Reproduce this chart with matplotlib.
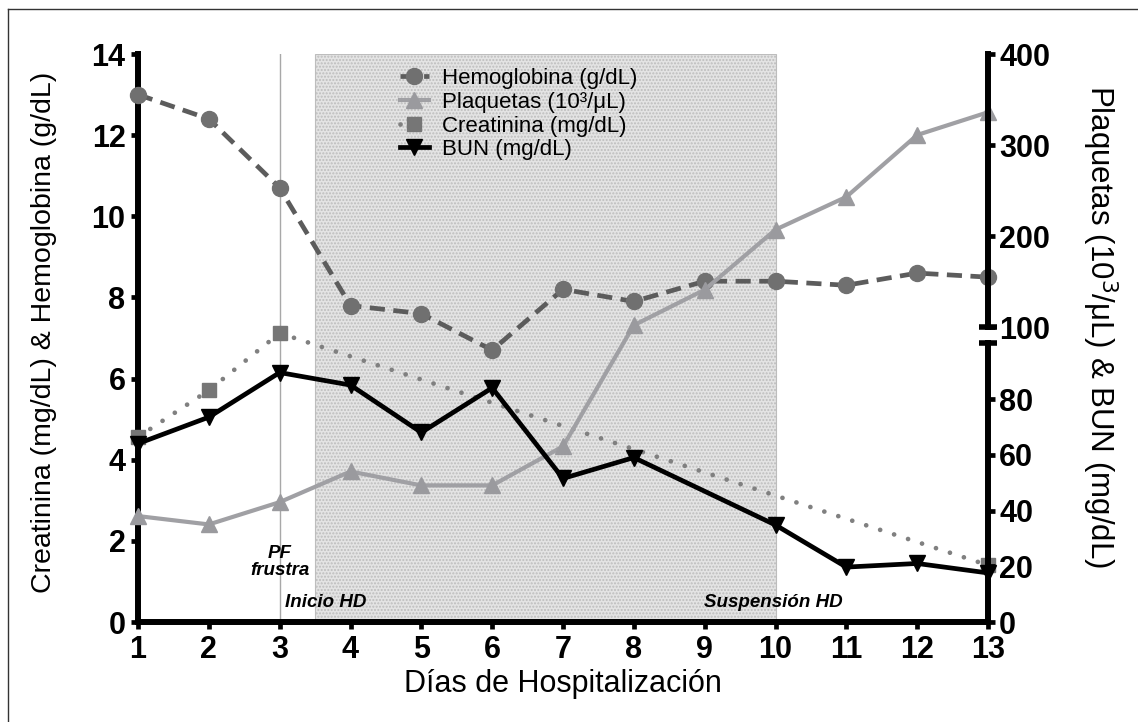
import numpy as np
import matplotlib
matplotlib.use('Agg')
import matplotlib.pyplot as plt
from matplotlib.transforms import blended_transform_factory

plt.rcParams['font.family'] = ['Liberation Sans', 'DejaVu Sans']

# data
dias = [1, 2, 3, 4, 5, 6, 7, 8, 9, 10, 11, 12, 13]
hemoglobina = [13.0, 12.4, 10.7, 7.8, 7.6, 6.7, 8.2, 7.9, 8.4, 8.4, 8.3, 8.6, 8.5]
plaquetas = [38, 35, 43, 54, 49, 49, 63, 102, 141, 207, 243, 311, 336]
creat_dias = [1, 2, 3, 13]
creatinina = [4.56, 5.71, 7.12, 1.4]
bun_dias = [1, 2, 3, 4, 5, 6, 7, 8, 10, 11, 12, 13]
bun = [64, 73.5, 89.5, 85, 68, 84, 51.5, 59, 34.8, 19.7, 21, 17.6]

left_ticks = [0, 2, 4, 6, 8, 10, 12, 14]
right_ticks = [0, 20, 40, 60, 80, 100, 200, 300, 400]

# broken right axis: 0-100 on lower part, 100-400 on upper part (in left-axis units)
LOW_TOP = 6.87
UP_BOT = 7.27

def fwd(v):
    v = np.asarray(v, dtype=float)
    return np.where(v < 100, v * LOW_TOP / 100, UP_BOT + (v - 100) * (14 - UP_BOT) / 300)

def inv(y):
    y = np.asarray(y, dtype=float)
    return np.where(y < LOW_TOP, y * 100 / LOW_TOP,
                    np.where(y < UP_BOT, 100, 100 + (y - UP_BOT) * 300 / (14 - UP_BOT)))

fig = plt.figure(figsize=(11.38, 7.22), dpi=100)
ax = fig.add_axes([138/1138, 1 - 622/722, 850/1138, 568/722])
ax2 = ax.twinx()

# frame around picture (top and left)
fig.add_artist(plt.Line2D([8/1138, 8/1138], [0, 1 - 9/722], color='#333333', lw=1))
fig.add_artist(plt.Line2D([8/1138, 1], [1 - 9/722, 1 - 9/722], color='#333333', lw=1))

# shaded HD period and PF line
ax.axvspan(3.5, 10, facecolor='#e4e4e4', edgecolor='#bdbdbd', hatch='.....', lw=0.8, zorder=0)
ax.axvline(3, color='#a8a8a8', lw=1, zorder=1)

ax.plot(dias, hemoglobina, color='#5c5c5c', lw=3.4, linestyle=(0, (3.2, 1.8)),
        marker='o', ms=11.5, mfc='#707070', mec='#707070', clip_on=False, zorder=4,
        label='Hemoglobina (g/dL)')
ax.plot(creat_dias, creatinina, color='#808080', lw=3.4, linestyle=(0, (0.01, 3.1)),
        dash_capstyle='round', marker='s', ms=10.5, mfc='#767676', mec='#767676',
        clip_on=False, zorder=4, label='Creatinina (mg/dL)')

ax2.set_yscale('function', functions=(fwd, inv))
ax2.plot(dias, plaquetas, color='#a0a0a4', lw=3, marker='^', ms=11.5,
         mfc='#9a9a9e', mec='#9a9a9e', clip_on=False, zorder=4,
         label='Plaquetas (10³/μL)')
ax2.plot(bun_dias, bun, color='black', lw=3.4, marker='v', ms=11, clip_on=False,
         zorder=5, label='BUN (mg/dL)')

ax.set_xlim(1, 13)
ax.set_ylim(0, 14)
ax2.set_ylim(0, 400)

ax.set_xticks(dias)
ax.set_yticks(left_ticks)
ax2.set_yticks(right_ticks)
ax2.set_yticklabels([str(t) for t in right_ticks])
ax2.yaxis.set_minor_locator(matplotlib.ticker.NullLocator())

for s in ['top', 'right']:
    ax.spines[s].set_visible(False)
for s in ['top', 'left', 'bottom', 'right']:
    ax2.spines[s].set_visible(False)
for s in ['left', 'bottom']:
    ax.spines[s].set_linewidth(4.3)
    ax.spines[s].set_capstyle('projecting')

ax.tick_params(axis='both', direction='out', length=5, width=3.4, labelsize=22, pad=4)
ax2.tick_params(axis='y', direction='out', length=5, width=3.4, labelsize=22, pad=3)
for lab in ax.get_xticklabels() + ax.get_yticklabels() + ax2.get_yticklabels():
    lab.set_fontweight('bold')

# right spine drawn in two pieces
trans = blended_transform_factory(ax2.transAxes, ax2.transData)
ax2.plot([1, 1], [0, 99.999], transform=trans, color='black', lw=4.3, clip_on=False,
         solid_capstyle='projecting', zorder=6)
ax2.plot([1, 1], [100, 400], transform=trans, color='black', lw=4.3, clip_on=False,
         solid_capstyle='projecting', zorder=6)
ax2.plot([1, 1], [99.999, 100], transform=trans, linestyle='none', marker='_',
         ms=13, mew=4, color='black', clip_on=False, zorder=6)

ax.set_xlabel('Días de Hospitalización', fontsize=22)
ax.xaxis.set_label_coords(0.5, -0.083)
ax.set_ylabel('Creatinina (mg/dL) & Hemoglobina (g/dL)', fontsize=20.5)
ax.yaxis.set_label_coords(-0.095, 0.51)
ax2.set_ylabel('Plaquetas (10$^3$/μL) & BUN (mg/dL)', fontsize=22.5, rotation=270)
ax2.yaxis.set_label_coords(1.155, 0.52)

ax.text(3, 1.48, 'PF\nfrustra', ha='center', va='center', fontsize=13.5,
        fontweight='bold', fontstyle='italic', linespacing=1.0)
ax.text(3.08, 0.47, 'Inicio HD', ha='left', va='center', fontsize=13.5,
        fontweight='bold', fontstyle='italic')
ax.text(9.97, 0.47, 'Suspensión HD', ha='center', va='center', fontsize=13.5,
        fontweight='bold', fontstyle='italic')

h1, l1 = ax.get_legend_handles_labels()
h2, l2 = ax2.get_legend_handles_labels()
handles = [h1[0], h2[0], h1[1], h2[1]]
labels = [l1[0], l2[0], l1[1], l2[1]]
ax2.legend(handles, labels, loc='upper left', bbox_to_anchor=(0.308, 0.975),
           frameon=False, fontsize=16, handlelength=1.3, handletextpad=0.6,
           labelspacing=0.12, borderpad=0, borderaxespad=0)

fig.savefig('out.png', dpi=100)
